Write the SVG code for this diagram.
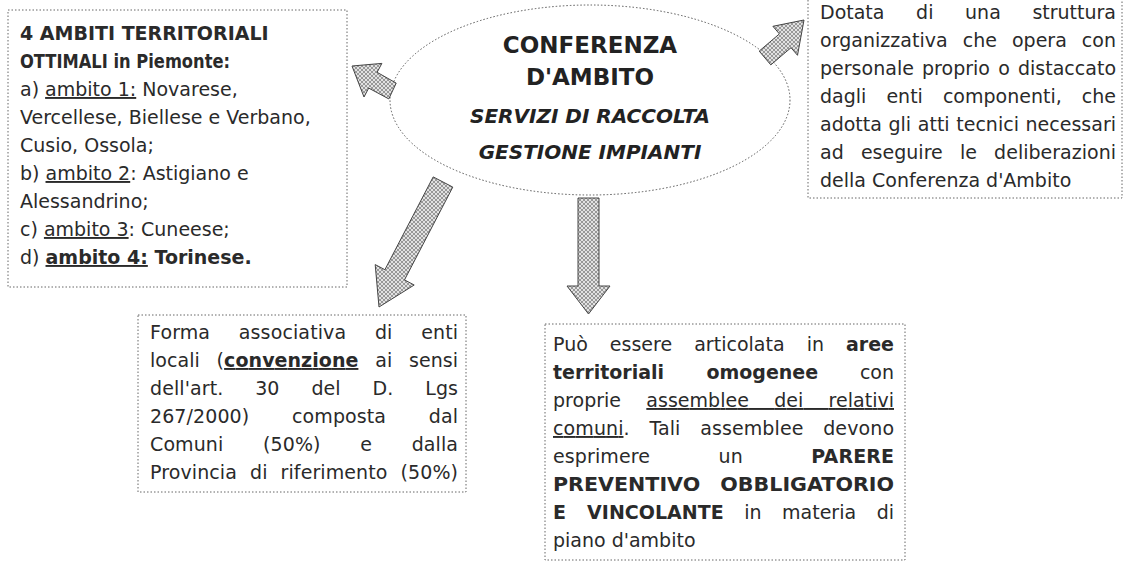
<svg xmlns="http://www.w3.org/2000/svg" width="1124" height="564" viewBox="0 0 1124 564">
<style>
  .box { fill: #ffffff; stroke: #666666; stroke-width: 1; stroke-dasharray: 1.5 2; }
  .t { font-family: "DejaVu Sans", Verdana, sans-serif; font-size: 19px; fill: #2a2a2a; }
  .b { font-weight: bold; }
  .u { text-decoration: underline; }
  .e { font-family: "DejaVu Sans", Verdana, sans-serif; font-weight: bold; fill: #222222; text-anchor: middle; }
  .arrow { fill: url(#hatch); stroke: #444444; stroke-width: 1; }
</style>
<defs>
  <pattern id="hatch" width="4" height="4" patternUnits="userSpaceOnUse">
    <rect width="4" height="4" fill="#e2e2e2"/>
    <path d="M0,0 L4,4 M4,0 L0,4" stroke="#666666" stroke-width="0.6"/>
  </pattern>
</defs>
<rect width="1124" height="564" fill="#ffffff"/>

<g id="ambiti">
  <rect class="box" x="8" y="10" width="339" height="277"/>
  <text class="t b" x="20" y="40">4 AMBITI TERRITORIALI</text>
  <text class="t b" x="20" y="68" textLength="210" lengthAdjust="spacingAndGlyphs">OTTIMALI in Piemonte:</text>
  <text class="t" x="20" y="96">a) <tspan class="u">ambito 1:</tspan> Novarese,</text>
  <text class="t" x="20" y="124">Vercellese, Biellese e Verbano,</text>
  <text class="t" x="20" y="152">Cusio, Ossola;</text>
  <text class="t" x="20" y="180">b) <tspan class="u">ambito 2</tspan>: Astigiano e</text>
  <text class="t" x="20" y="208">Alessandrino;</text>
  <text class="t" x="20" y="236">c) <tspan class="u">ambito 3</tspan>: Cuneese;</text>
  <text class="t" x="20" y="264">d) <tspan class="b u">ambito 4:</tspan><tspan class="b"> Torinese.</tspan></text>
</g>

<g id="conferenza">
  <ellipse cx="590" cy="100" rx="200" ry="95" fill="#ffffff" stroke="#555555" stroke-width="1" stroke-dasharray="1.5 2"/>
  <text class="e" x="590" y="53" font-size="23">CONFERENZA</text>
  <text class="e" x="590" y="85" font-size="23">D'AMBITO</text>
  <text class="e" x="590" y="123" font-size="20" font-style="italic">SERVIZI DI RACCOLTA</text>
  <text class="e" x="590" y="159" font-size="20" font-style="italic">GESTIONE IMPIANTI</text>
</g>

<g id="struttura">
  <rect class="box" x="808" y="-3" width="314" height="201"/>
  <text class="t" x="820" y="19" word-spacing="25.6" textLength="296" lengthAdjust="spacing">Dotata di una struttura</text>
  <text class="t" x="820" y="47" word-spacing="8.9" textLength="296" lengthAdjust="spacing">organizzativa che opera con</text>
  <text class="t" x="820" y="75" word-spacing="2.1" textLength="296" lengthAdjust="spacing">personale proprio o distaccato</text>
  <text class="t" x="820" y="103" word-spacing="14" textLength="296" lengthAdjust="spacing">dagli enti componenti, che</text>
  <text class="t" x="820" y="131" word-spacing="0.6" textLength="296" lengthAdjust="spacing">adotta gli atti tecnici necessari</text>
  <text class="t" x="820" y="159" word-spacing="11.1" textLength="296" lengthAdjust="spacing">ad eseguire le deliberazioni</text>
  <text class="t" x="820" y="187">della Conferenza d'Ambito</text>
</g>

<g id="forma">
  <rect class="box" x="138" y="315" width="328" height="177"/>
  <text class="t" x="150" y="339" word-spacing="22.5" textLength="308" lengthAdjust="spacing">Forma associativa di enti</text>
  <text class="t" x="150" y="367" word-spacing="10.6" textLength="308" lengthAdjust="spacing">locali (<tspan class="b u">convenzione</tspan> ai sensi</text>
  <text class="t" x="150" y="395" word-spacing="25.7" textLength="308" lengthAdjust="spacing">dell'art. 30 del D. Lgs</text>
  <text class="t" x="150" y="423" word-spacing="36.6" textLength="308" lengthAdjust="spacing">267/2000) composta dal</text>
  <text class="t" x="150" y="451" word-spacing="33.5" textLength="308" lengthAdjust="spacing">Comuni (50%) e dalla</text>
  <text class="t" x="150" y="479" word-spacing="6.9" textLength="308" lengthAdjust="spacing">Provincia di riferimento (50%)</text>
</g>

<g id="aree">
  <rect class="box" x="545" y="324" width="360" height="236"/>
  <text class="t" x="553" y="351" word-spacing="15.9" textLength="341" lengthAdjust="spacing">Può essere articolata in <tspan class="b">aree</tspan></text>
  <text class="t" x="553" y="379" word-spacing="35.7" textLength="341" lengthAdjust="spacing"><tspan class="b">territoriali omogenee</tspan> con</text>
  <text class="t" x="553" y="407" word-spacing="19.2" textLength="341" lengthAdjust="spacing">proprie <tspan class="u">assemblee dei relativi</tspan></text>
  <text class="t" x="553" y="435" word-spacing="13.5" textLength="341" lengthAdjust="spacing"><tspan class="u">comuni</tspan>. Tali assemblee devono</text>
  <text class="t" x="553" y="463" word-spacing="62.3" textLength="341" lengthAdjust="spacing">esprimere un <tspan class="b">PARERE</tspan></text>
  <text class="t b" x="553" y="491" word-spacing="12" textLength="341" lengthAdjust="spacingAndGlyphs">PREVENTIVO OBBLIGATORIO</text>
  <text class="t" x="553" y="519" word-spacing="14.5" textLength="341" lengthAdjust="spacing"><tspan class="b">E VINCOLANTE</tspan> in materia di</text>
  <text class="t" x="553" y="547">piano d'ambito</text>
</g>

<g id="connectors">
  <polygon class="arrow" points="396.2,83.1 377.1,72.3 381.9,63.4 352,66 364.0,97.0 368.7,88.1 388.8,98.9"/>
  <polygon class="arrow" points="770.8,64.9 791.0,47.7 797.5,55.3 804,20 772.9,26.3 779.4,33.9 759.2,51.1"/>
  <polygon class="arrow" points="452.8,187.1 404.5,279.9 414.2,285.0 379,307 375.2,264.6 384.9,269.7 433.2,176.9"/>
  <polygon class="arrow" points="578,198 599,198 599,286 610,286 588.5,314 567,286 578,286"/>
</g>
</svg>
